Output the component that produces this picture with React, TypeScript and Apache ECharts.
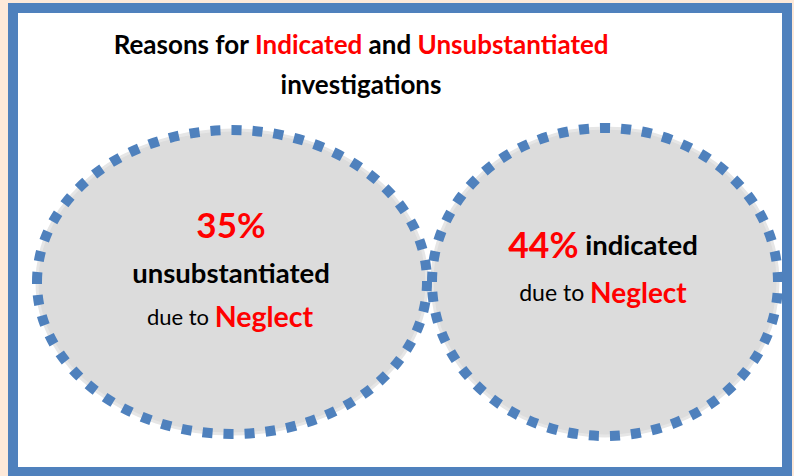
import React, { useEffect, useRef } from "react";
import * as echarts from "echarts";

const titleLine1 = [
  { text: "Reasons for ", color: "#000000" },
  { text: "Indicated", color: "#ff0000" },
  { text: " and ", color: "#000000" },
  { text: "Unsubstantiated", color: "#ff0000" },
];
const titleLine2 = "investigations";
const percents = ["35%", "44%"];
const labels = ["unsubstantiated", "indicated"];
const reason = "Neglect";
const prefix = "due to ";

const FONT = "Lato, 'Open Sans', sans-serif";
const BLUE = "#4f81bd";
const GREY = "#dcdcdc";

export default function App() {
  const ref = useRef<HTMLDivElement>(null);
  useEffect(() => {
    document.body.style.margin = "0";
    document.body.style.background = "#fde9d9";
    const chart = echarts.init(ref.current!, null, { renderer: "svg" });
    const ellipse = (cx: number, cy: number, rx: number, ry: number) => [
      {
        type: "ellipse",
        shape: { cx, cy, rx, ry },
        style: { fill: GREY, stroke: "#e6e6e6", lineWidth: 3 },
        z: 1,
      },
      {
        type: "ellipse",
        shape: { cx, cy, rx, ry },
        style: { fill: "none", stroke: BLUE, lineWidth: 10, lineDash: [10, 11] },
        z: 2,
      },
    ];
    const rich1: any = {};
    titleLine1.forEach((s, i) => {
      rich1["t" + i] = { fontSize: 26, fontWeight: "bold", fill: s.color, fontFamily: FONT };
    });
    chart.setOption({
      animation: false,
      graphic: [
        {
          type: "rect",
          shape: { x: 13, y: 8, width: 774, height: 464 },
          style: { fill: "#ffffff", stroke: BLUE, lineWidth: 10 },
          z: 0,
        },
        ...ellipse(232, 282, 195, 152),
        ...ellipse(605, 282, 173, 154),
        {
          type: "text",
          x: 361,
          y: 44,
          z: 5,
          style: {
            text: titleLine1.map((s, i) => `{t${i}|${s.text}}`).join(""),
            rich: rich1,
            align: "center",
            verticalAlign: "middle",
          },
        },
        {
          type: "text",
          x: 361,
          y: 84,
          z: 5,
          style: {
            text: titleLine2,
            fontSize: 26,
            fontWeight: "bold",
            fontFamily: FONT,
            fill: "#000",
            align: "center",
            verticalAlign: "middle",
          },
        },
        // left ellipse
        {
          type: "text",
          x: 231,
          y: 224,
          z: 5,
          style: {
            text: percents[0],
            fontSize: 35,
            fontWeight: "bold",
            fontFamily: FONT,
            fill: "#ff0000",
            align: "center",
            verticalAlign: "middle",
          },
        },
        {
          type: "text",
          x: 231,
          y: 272,
          z: 5,
          style: {
            text: labels[0],
            fontSize: 27.5,
            fontWeight: "bold",
            fontFamily: FONT,
            fill: "#000",
            align: "center",
            verticalAlign: "middle",
          },
        },
        {
          type: "text",
          x: 230,
          y: 316,
          z: 5,
          style: {
            text: `{a|${prefix}}{b|${reason}}`,
            rich: {
              a: { fontSize: 22, fontFamily: FONT, fill: "#000" },
              b: { fontSize: 28.5, fontWeight: "bold", fontFamily: FONT, fill: "#ff0000" },
            },
            align: "center",
            verticalAlign: "middle",
          },
        },
        // right ellipse
        {
          type: "text",
          x: 603,
          y: 244,
          z: 5,
          style: {
            text: `{a|${percents[1]}}{b| ${labels[1]}}`,
            rich: {
              a: { fontSize: 35.5, fontWeight: "bold", fontFamily: FONT, fill: "#ff0000" },
              b: { fontSize: 27.5, fontWeight: "bold", fontFamily: FONT, fill: "#000" },
            },
            align: "center",
            verticalAlign: "middle",
          },
        },
        {
          type: "text",
          x: 603,
          y: 292,
          z: 5,
          style: {
            text: `{a|${prefix}}{b|${reason}}`,
            rich: {
              a: { fontSize: 23, fontFamily: FONT, fill: "#000" },
              b: { fontSize: 28, fontWeight: "bold", fontFamily: FONT, fill: "#ff0000" },
            },
            align: "center",
            verticalAlign: "middle",
          },
        },
      ],
    });
    return () => chart.dispose();
  }, []);
  return (
    <div
      ref={ref}
      style={{ position: "absolute", left: 0, top: 0, width: 794, height: 476, background: "#fde9d9" }}
    />
  );
}
